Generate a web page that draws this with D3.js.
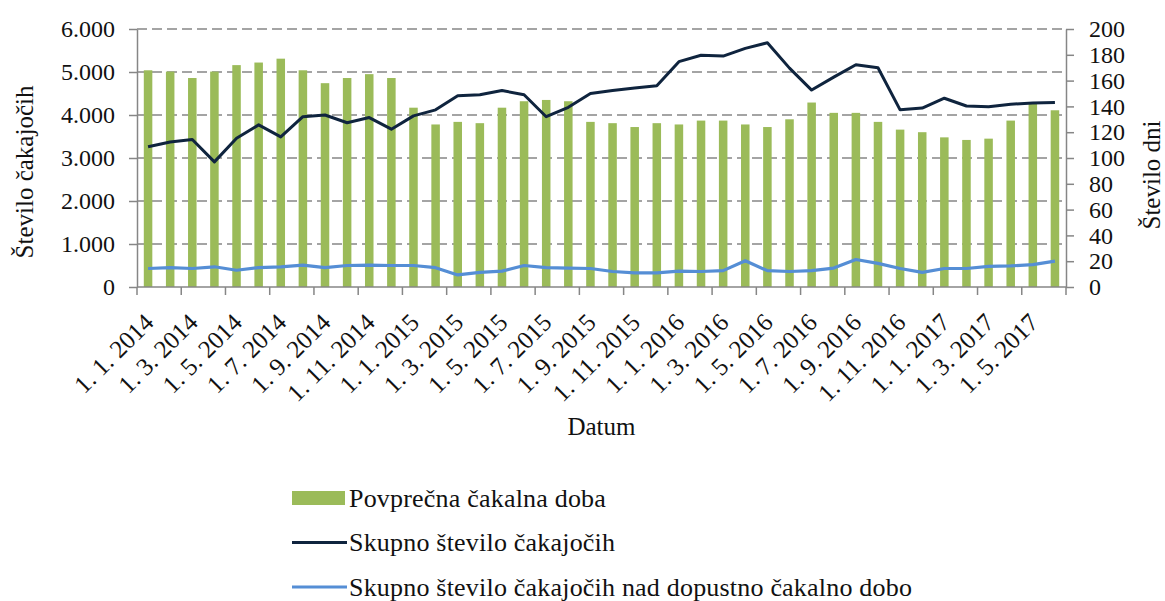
<!DOCTYPE html>
<html>
<head>
<meta charset="utf-8">
<script src="https://cdn.jsdelivr.net/npm/d3@7"></script>
<style>
  body { margin: 0; background: #fff; }
</style>
</head>
<body>
<svg id="chart" width="1165" height="601"></svg>
<script>
// months, one bar per month
var months = [
    "1. 1. 2014", "1. 2. 2014", "1. 3. 2014", "1. 4. 2014", "1. 5. 2014", "1. 6. 2014",
    "1. 7. 2014", "1. 8. 2014", "1. 9. 2014", "1. 10. 2014", "1. 11. 2014", "1. 12. 2014",
    "1. 1. 2015", "1. 2. 2015", "1. 3. 2015", "1. 4. 2015", "1. 5. 2015", "1. 6. 2015",
    "1. 7. 2015", "1. 8. 2015", "1. 9. 2015", "1. 10. 2015", "1. 11. 2015", "1. 12. 2015",
    "1. 1. 2016", "1. 2. 2016", "1. 3. 2016", "1. 4. 2016", "1. 5. 2016", "1. 6. 2016",
    "1. 7. 2016", "1. 8. 2016", "1. 9. 2016", "1. 10. 2016", "1. 11. 2016", "1. 12. 2016",
    "1. 1. 2017", "1. 2. 2017", "1. 3. 2017", "1. 4. 2017", "1. 5. 2017", "1. 6. 2017"
];

// Povprečna čakalna doba (dni, desna os)
var avgWaitDays = [
    168, 167, 162, 167, 172, 174, 177, 168, 158, 162, 165, 162,
    139, 126, 128, 127, 139, 144, 145, 144, 128, 127, 124, 127,
    126, 129, 129, 126, 124, 130, 143, 135, 135, 128, 122, 120,
    116, 114, 115, 129, 142, 137
];

// Skupno število čakajočih (leva os)
var totalWaiting = [
    3260, 3370, 3430, 2910, 3460, 3770, 3490, 3960, 4000, 3820, 3940, 3670,
    3980, 4120, 4450, 4470, 4570, 4470, 3960, 4180, 4500, 4570, 4630, 4680,
    5240, 5390, 5370, 5550, 5680, 5090, 4580, 4880, 5170, 5100, 4120, 4160,
    4390, 4210, 4190, 4250, 4280, 4290
];

// Skupno število čakajočih nad dopustno čakalno dobo (leva os)
var overLimit = [
    430, 450, 430, 470, 390, 450, 470, 510, 450, 500, 510, 500,
    500, 450, 280, 340, 370, 500, 450, 440, 430, 360, 330, 330,
    370, 360, 380, 610, 380, 360, 380, 440, 640, 550, 430, 340,
    430, 430, 480, 490, 520, 600
];

var leftTicks = [0, 1000, 2000, 3000, 4000, 5000, 6000];
var rightTicks = [0, 20, 40, 60, 80, 100, 120, 140, 160, 180, 200];

var legendItems = [
    { name: "Povprečna čakalna doba", type: "bar", color: "#9bbb59" },
    { name: "Skupno število čakajočih", type: "line", color: "#0f243e" },
    { name: "Skupno število čakajočih nad dopustno čakalno dobo", type: "line", color: "#558ed5" }
];

var margin = { top: 29, right: 99, bottom: 314, left: 137 },
    width = 1165 - margin.left - margin.right,
    height = 601 - margin.top - margin.bottom;

var FONT = "'Liberation Serif', 'Times New Roman', Tinos, 'DejaVu Serif', serif";
var axisColor = "#868686";
var sl = d3.formatLocale({ decimal: ",", thousands: ".", grouping: [3], currency: ["", "€"] });
var fmt = sl.format(",d");

var svg = d3.select("#chart");

var g = svg.append("g")
    .attr("transform", "translate(" + margin.left + "," + margin.top + ")");

var x = d3.scaleBand()
    .domain(months)
    .range([0, width])
    .padding(0);

var yL = d3.scaleLinear().domain([0, 6000]).range([height, 0]);
var yR = d3.scaleLinear().domain([0, 200]).range([height, 0]);

// dashed gridlines
g.append("g")
    .attr("class", "grid")
    .selectAll("line")
    .data(leftTicks.filter(function(d) { return d > 0; }))
    .enter().append("line")
    .attr("x1", 0)
    .attr("x2", width)
    .attr("y1", function(d) { return yL(d); })
    .attr("y2", function(d) { return yL(d); })
    .style("stroke", axisColor)
    .style("stroke-width", 1.5)
    .style("stroke-dasharray", "10,5");

// bars
var barW = x.bandwidth() * 0.385;
g.append("g")
    .selectAll("rect")
    .data(avgWaitDays)
    .enter().append("rect")
    .attr("x", function(d, i) { return x(months[i]) + (x.bandwidth() - barW) / 2; })
    .attr("y", function(d) { return yR(d); })
    .attr("width", barW)
    .attr("height", function(d) { return height - yR(d); })
    .style("fill", "#9bbb59");

// left axis
var axL = g.append("g")
    .call(d3.axisLeft(yL).tickValues(leftTicks).tickFormat(fmt).tickSize(8).tickSizeOuter(0).tickPadding(14));

// right axis
var axR = g.append("g")
    .attr("transform", "translate(" + width + ",0)")
    .call(d3.axisRight(yR).tickValues(rightTicks).tickSize(8).tickSizeOuter(0).tickPadding(15));

[axL, axR].forEach(function(ax) {
    ax.attr("font-family", null).attr("font-size", null);
    ax.select(".domain").style("stroke", axisColor).style("stroke-width", 1.5);
    ax.selectAll(".tick line").style("stroke", axisColor).style("stroke-width", 1.5);
    ax.selectAll(".tick text")
        .style("font-family", FONT)
        .style("font-size", "24px")
        .attr("fill", "#111");
});

// bottom axis, ticks every second month
var tickIdx = d3.range(0, months.length + 1, 2);
var axB = g.append("g").attr("transform", "translate(0," + height + ")");
axB.append("line")
    .attr("x1", 0).attr("x2", width)
    .style("stroke", axisColor).style("stroke-width", 1.5);
axB.selectAll("line.tk")
    .data(tickIdx)
    .enter().append("line")
    .attr("class", "tk")
    .attr("x1", function(i) { return i < months.length ? x(months[i]) : width; })
    .attr("x2", function(i) { return i < months.length ? x(months[i]) : width; })
    .attr("y1", 0).attr("y2", 8)
    .style("stroke", axisColor).style("stroke-width", 1.5);
axB.selectAll("text")
    .data(months.filter(function(d, i) { return i % 2 === 0; }))
    .enter().append("text")
    .attr("transform", function(d) {
        return "translate(" + (x(d) + x.bandwidth() / 2 + 7) + ",37) rotate(-45)";
    })
    .style("text-anchor", "end")
    .style("font-family", FONT)
    .style("font-size", "25px")
    .style("fill", "#111")
    .text(function(d) { return d; });

// lines
var lineL = d3.line()
    .x(function(d, i) { return x(months[i]) + x.bandwidth() / 2; })
    .y(function(d) { return yL(d); });

g.append("path")
    .datum(overLimit)
    .attr("d", lineL)
    .style("fill", "none")
    .style("stroke", "#558ed5")
    .style("stroke-width", 3.2)
    .style("stroke-linejoin", "round");

g.append("path")
    .datum(totalWaiting)
    .attr("d", lineL)
    .style("fill", "none")
    .style("stroke", "#0f243e")
    .style("stroke-width", 3)
    .style("stroke-linejoin", "round");

// axis titles
function title(sel) {
    return sel.style("text-anchor", "middle")
        .style("font-family", FONT)
        .style("font-size", "25px")
        .style("fill", "#111");
}

svg.append("text")
    .attr("transform", "translate(33,172) rotate(-90)")
    .call(title)
    .text("Število čakajočih");

svg.append("text")
    .attr("transform", "translate(1160,175) rotate(-90)")
    .call(title)
    .text("Število dni");

svg.append("text")
    .attr("x", margin.left + width / 2)
    .attr("y", 435)
    .call(title)
    .text("Datum");

// legend
var legend = svg.append("g")
    .selectAll("g")
    .data(legendItems)
    .enter().append("g")
    .attr("transform", function(d, i) { return "translate(292," + (498 + i * 44.5) + ")"; });

legend.filter(function(d) { return d.type === "bar"; })
    .append("rect")
    .attr("x", 0).attr("y", -7)
    .attr("width", 53).attr("height", 14)
    .style("fill", function(d) { return d.color; });

legend.filter(function(d) { return d.type === "line"; })
    .append("line")
    .attr("x1", 0).attr("x2", 55)
    .style("stroke", function(d) { return d.color; })
    .style("stroke-width", 3.2);

legend.append("text")
    .attr("x", 57)
    .attr("dy", "0.33em")
    .style("font-family", FONT)
    .style("font-size", "26px")
    .style("letter-spacing", "0.2px")
    .style("fill", "#111")
    .text(function(d) { return d.name; });
</script>
</body>
</html>
